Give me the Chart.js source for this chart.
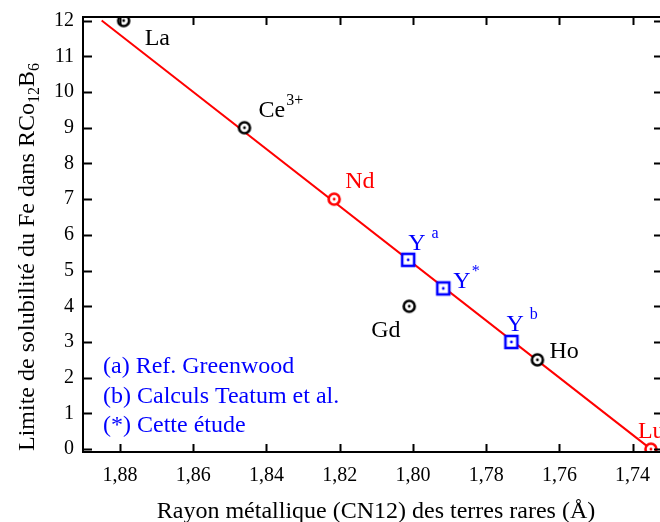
<!DOCTYPE html>
<html>
<head>
<meta charset="utf-8">
<script src="https://cdn.jsdelivr.net/npm/chart.js@4/dist/chart.umd.min.js"></script>
<style>
  html, body { margin: 0; padding: 0; background: #fff; overflow: hidden; }
  #wrap { width: 660px; height: 522px; overflow: hidden; }
</style>
</head>
<body>
<div id="wrap"><canvas id="solubilityChart" width="670" height="522"></canvas></div>
<script>
// rare earths (black circles)
const circleNames = ["La", "Ce", "Gd", "Ho"];
const circleSup = ["", "3+", "", ""];
const circleRadius = [1.879, 1.846, 1.801, 1.766];
const circleSolubility = [12, 9, 4, 2.5];

// reference points on the fit (red circles)
const refNames = ["Nd", "Lu"];
const refRadius = [1.8215, 1.735];
const refSolubility = [7, 0];

// yttrium (blue squares)
const yttriumSup = ["a", "*", "b"];
const yttriumRadius = [1.8013, 1.7917, 1.7731];
const yttriumSolubility = [5.3, 4.5, 3.0];

// linear fit
const fitRadius = [1.885, 1.735];
const fitSolubility = [12, 0];

const xTicks = [1.88, 1.86, 1.84, 1.82, 1.80, 1.78, 1.76, 1.74];
const yTicks = [0, 1, 2, 3, 4, 5, 6, 7, 8, 9, 10, 11, 12];

const notes = ["(a) Ref. Greenwood", "(b) Calculs Teatum et al.", "(*) Cette étude"];

// label placement relative to the marker (text left, baseline)
const circleOffsets = [[21, 24], [14, -11], [-38, 31], [12, -2]];
const refOffsets = [[11, -11], [-13, -11]];
const yttriumOffsets = [[0, -10], [10, 0], [-5, -11]];
const supGaps = { "3+": 1, "a": 6, "*": 1, "b": 6 };

const SERIF = "'Liberation Serif', 'Times New Roman', serif";
const RED = "#ff0000";
const BLUE = "#0000ff";

function makeMarker(shape, color) {
  const c = document.createElement("canvas");
  c.width = 18;
  c.height = 18;
  const g = c.getContext("2d");
  g.strokeStyle = color;
  g.fillStyle = "#fff";
  g.lineWidth = 2.6;
  if (shape === "square") {
    g.fillRect(3, 3, 12, 12);
    g.strokeRect(3, 3, 12, 12);
  } else {
    g.beginPath();
    g.arc(9, 9, 5.5, 0, Math.PI * 2);
    g.fill();
    g.stroke();
  }
  g.fillStyle = color;
  g.beginPath();
  g.arc(9, 9, 1.4, 0, Math.PI * 2);
  g.fill();
  return c;
}

function toPoints(xs, ys) {
  return xs.map((x, i) => ({ x: x, y: ys[i] }));
}

function drawLabel(ctx, x, y, main, sup, color) {
  ctx.fillStyle = color;
  ctx.font = "24px " + SERIF;
  ctx.textAlign = "left";
  ctx.textBaseline = "alphabetic";
  ctx.fillText(main, x, y);
  if (sup) {
    const w = ctx.measureText(main).width;
    ctx.font = "16px " + SERIF;
    ctx.fillText(sup, x + w + (supGaps[sup] || 0), y - 12);
  }
}

// keep the plot box where the original has it
function noLabelPadding(scale) {
  scale.paddingTop = 0;
  scale.paddingBottom = 0;
  scale.paddingLeft = 0;
  scale.paddingRight = 0;
}

const overlay = {
  id: "overlay",
  afterDraw(chart) {
    const ctx = chart.ctx;
    const area = chart.chartArea;
    const xs = chart.scales.x;
    const ys = chart.scales.y;

    // frame + inward ticks
    ctx.save();
    ctx.strokeStyle = "#000";
    ctx.lineWidth = 2;
    ctx.strokeRect(area.left, area.top, area.right - area.left, area.bottom - area.top);
    ctx.beginPath();
    xs.ticks.forEach((t) => {
      const px = Math.round(xs.getPixelForValue(t.value)) + 0.5;
      ctx.moveTo(px, area.bottom);
      ctx.lineTo(px, area.bottom - 8);
      ctx.moveTo(px, area.top);
      ctx.lineTo(px, area.top + 8);
    });
    ys.ticks.forEach((t) => {
      const py = Math.round(ys.getPixelForValue(t.value)) + 0.5;
      ctx.moveTo(area.left, py);
      ctx.lineTo(area.left + 9, py);
      ctx.moveTo(area.right, py);
      ctx.lineTo(area.right - 9, py);
    });
    ctx.stroke();

    // point labels
    const px = (v) => xs.getPixelForValue(v);
    const py = (v) => ys.getPixelForValue(v);
    circleNames.forEach((n, i) => {
      const o = circleOffsets[i];
      drawLabel(ctx, px(circleRadius[i]) + o[0], py(circleSolubility[i]) + o[1], n, circleSup[i], "#000");
    });
    refNames.forEach((n, i) => {
      const o = refOffsets[i];
      drawLabel(ctx, px(refRadius[i]) + o[0], py(refSolubility[i]) + o[1], n, "", RED);
    });
    yttriumSup.forEach((s, i) => {
      const o = yttriumOffsets[i];
      drawLabel(ctx, px(yttriumRadius[i]) + o[0], py(yttriumSolubility[i]) + o[1], "Y", s, BLUE);
    });

    // notes
    ctx.fillStyle = BLUE;
    ctx.font = "24px " + SERIF;
    notes.forEach((t, i) => ctx.fillText(t, 103, 373 + i * 29.5));

    // x title
    ctx.fillStyle = "#000";
    ctx.font = "24px " + SERIF;
    ctx.textAlign = "center";
    ctx.fillText("Rayon métallique (CN12) des terres rares (Å)", 376, 518);

    // y title with subscripts
    const parts = [["Limite de solubilité du Fe dans RCo", 0], ["12", 1], ["B", 0], ["6", 1]];
    ctx.translate(34, 451);
    ctx.rotate(-Math.PI / 2);
    ctx.textAlign = "left";
    let u = 0;
    parts.forEach(([t, sub]) => {
      ctx.font = (sub ? "16px " : "24px ") + SERIF;
      ctx.fillText(t, u, sub ? 5 : 0);
      u += ctx.measureText(t).width;
    });
    ctx.restore();
  },
};

const circleMarker = makeMarker("circle", "#000");
const redMarker = makeMarker("circle", RED);
const squareMarker = makeMarker("square", BLUE);

new Chart(document.getElementById("solubilityChart"), {
  type: "scatter",
  data: {
    datasets: [
      {
        label: "Terres rares",
        data: toPoints(circleRadius, circleSolubility),
        pointStyle: circleMarker,
        pointRadius: 6,
      },
      {
        label: "Référence",
        data: toPoints(refRadius, refSolubility),
        pointStyle: redMarker,
        pointRadius: 6,
      },
      {
        label: "Y",
        data: toPoints(yttriumRadius, yttriumSolubility),
        pointStyle: squareMarker,
        pointRadius: 6,
      },
      {
        label: "Ajustement",
        data: toPoints(fitRadius, fitSolubility),
        showLine: true,
        borderColor: RED,
        borderWidth: 2,
        pointRadius: 0,
        order: 1,
      },
    ],
  },
  options: {
    responsive: false,
    animation: false,
    devicePixelRatio: 1,
    layout: { padding: { top: 17, right: 2, left: 0, bottom: 0 } },
    plugins: {
      legend: { display: false },
      tooltip: { enabled: false },
    },
    scales: {
      x: {
        type: "linear",
        reverse: true,
        min: 1.7317,
        max: 1.8901,
        afterBuildTicks: (scale) => {
          scale.ticks = xTicks.map((v) => ({ value: v }));
        },
        afterFit: (scale) => {
          scale.height = 70;
          noLabelPadding(scale);
        },
        grid: { display: false, drawTicks: false },
        border: { display: false },
        ticks: {
          color: "#000",
          padding: 12,
          maxRotation: 0,
          font: { family: SERIF, size: 20 },
          callback: (v) => Number(v).toFixed(2).replace(".", ","),
        },
      },
      y: {
        type: "linear",
        min: -0.08,
        max: 12.1,
        afterBuildTicks: (scale) => {
          scale.ticks = yTicks.map((v) => ({ value: v }));
        },
        afterFit: (scale) => {
          scale.width = 83;
          noLabelPadding(scale);
        },
        grid: { display: false, drawTicks: false },
        border: { display: false },
        ticks: {
          color: "#000",
          padding: 9,
          font: { family: SERIF, size: 20 },
          callback: (v) => String(v),
        },
      },
    },
  },
  plugins: [overlay],
});
</script>
</body>
</html>
